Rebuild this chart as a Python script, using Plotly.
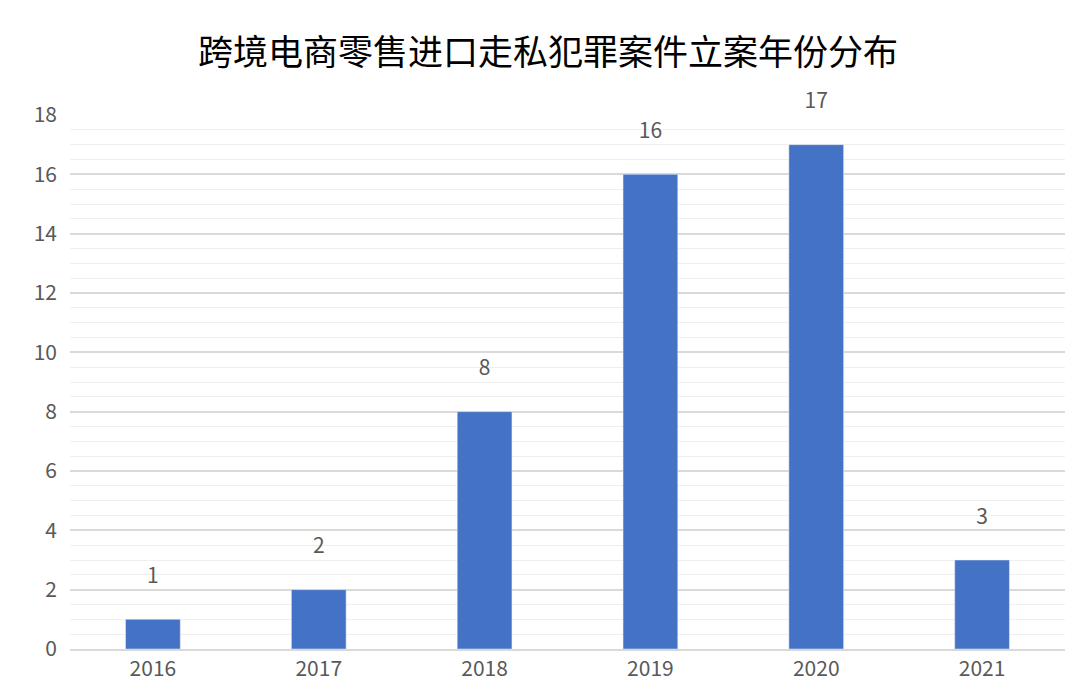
import plotly.graph_objects as go

years = ["2016", "2017", "2018", "2019", "2020", "2021"]
counts = [1, 2, 8, 16, 17, 3]

fig = go.Figure(go.Bar(
    x=years, y=counts, width=0.33, marker_color="#4472C4",
    text=[f"{c}<br> " for c in counts], textposition="outside", cliponaxis=False,
    textfont=dict(size=21, color="#595959"),
))
fig.update_layout(
    width=1080, height=689, plot_bgcolor="white", paper_bgcolor="white",
    margin=dict(l=62, r=23, t=107, b=48, autoexpand=False),
    title=dict(text="跨境电商零售进口走私犯罪案件立案年份分布", x=0.5, y=0.935,
               xanchor="center", yanchor="middle",
               font=dict(family="Noto Sans CJK SC", size=35, color="black")),
    font=dict(family="Noto Sans CJK SC", color="#595959"),
    showlegend=False,
)
fig.update_yaxes(range=[0, 18], dtick=2, gridcolor="#D9D9D9", gridwidth=1.5,
                 minor=dict(dtick=0.5, showgrid=True, gridcolor="#EFEFEF", gridwidth=1),
                 tickfont=dict(size=21), zeroline=False, ticklabelstandoff=12,
                 automargin=False)
fig.update_xaxes(showline=True, linecolor="#D9D9D9", linewidth=1.5,
                 tickfont=dict(size=21), automargin=False)
fig.write_html("out.html")
